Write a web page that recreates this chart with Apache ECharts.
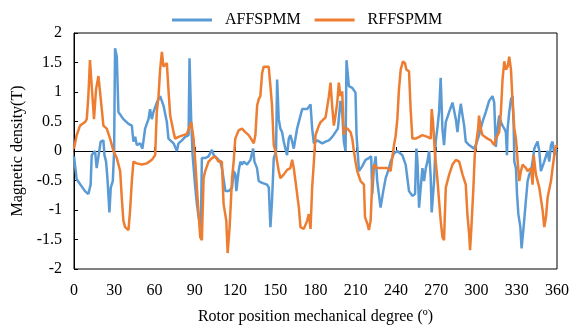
<!DOCTYPE html>
<html>
<head>
<meta charset="utf-8">
<script src="https://cdn.jsdelivr.net/npm/echarts@6/dist/echarts.min.js"></script>
<style>
  html, body { margin: 0; padding: 0; background: #fff; }
  #main { width: 581px; height: 330px; }
</style>
</head>
<body>
<div id="main"></div>
<script>
// rotor position (deg) and flux density (T)
const affDeg = [
  0, 2, 8.2, 10.7, 12.4, 13.2, 15.7, 16.9, 19.9, 21.9,
  22.7, 23.9, 24.9, 26.4, 27.4, 28.9, 29.9, 30.6, 31.9, 33.1,
  36.8, 40.6, 43.1, 44.3, 45.6, 46.8, 48, 49.3, 51, 53,
  55.5, 56.7, 58, 59.2, 61.7, 64.2, 66.7, 69.2, 70.4, 74.2,
  76.7, 77.9, 80.4, 82.9, 85.4, 86.1, 87.4, 88.4, 90.4, 91.6,
  92.9, 94.6, 95.3, 97.8, 100.3, 102.8, 104.1, 106.5, 109, 110.3,
  112.8, 115.3, 117.8, 119, 120.3, 121, 122.7, 124, 125.2, 126.5,
  129, 131.5, 133.5, 134.5, 136.4, 137.7, 140.2, 143.9, 145.2, 146.4,
  147.6, 148.9, 150.6, 151.4, 152.6, 153.8, 155.1, 156.3, 157.6, 158.8,
  160.1, 161.3, 162.6, 163.8, 166.3, 168.8, 170.1, 173.8, 176.3, 177.5,
  178.8, 181.3, 185, 187.5, 190, 192.5, 194.9, 196.7, 198.6, 199.9,
  201.1, 202.4, 203.1, 204.9, 207.4, 209.8, 210.6, 212.4, 214.8, 217.3,
  219.8, 221.5, 222.3, 223.5, 224.8, 226, 228.5, 230.5, 232.3, 234.8,
  236, 238.5, 241, 242.2, 244.7, 247.2, 249.7, 252.2, 254.2, 255.2,
  256, 257.2, 258.4, 259.7, 260.9, 262.2, 263.4, 264.7, 265.9, 266.6,
  268.4, 269.6, 270.8, 272.1, 273.3, 274.6, 275.8, 277.1, 279.6, 282.1,
  283.3, 284.6, 285.8, 287.1, 288.3, 289.6, 290.8, 292, 294.5, 298.2,
  299.5, 301.9, 304.4, 306.9, 309.4, 311.9, 313.2, 314.4, 315.7, 316.9,
  318.2, 319.4, 320.7, 321.9, 322.7, 323.2, 324.4, 325.7, 326.9, 327.7,
  328.2, 329.4, 330.2, 331.2, 332.7, 333.6, 335.1, 336.8, 338.1, 339.3,
  340.6, 341.8, 343.1, 344.3, 345.5, 346.8, 348, 350.5, 353, 354.2,
  355.5, 356.7, 358, 359.2, 360
];
const affB = [
  -0.09, -0.48, -0.68, -0.73, -0.57, -0.07, 0, -0.29, 0.16, 0.18,
  -0.07, -0.18, -0.46, -1.04, -0.62, -0.51, -0.01, 1.74, 1.6, 0.66,
  0.54, 0.46, 0.43, 0.16, 0.24, 0.1, 0.07, 0.13, 0.04, 0.38,
  0.54, 0.71, 0.54, 0.66, 0.82, 0.93, 0.77, 0.49, 0.21, 0.13,
  0, 0.13, 0.18, 0.24, 0.27, 1.57, 0.49, -0.07, -0.62, -0.9,
  -1.12, -1.29, -0.12, -0.12, -0.09, 0.02, -0.07, -0.12, -0.18, -0.29,
  -0.68, -0.68, -0.62, -0.34, -0.4, -0.68, -0.34, -0.18, -0.23, -0.18,
  -0.23, -0.15, 0.04, -0.18, -0.29, -0.51, -0.54, -0.57, -0.62, -1.29,
  -0.84, -0.12, -0.01, 1.21, 0.54, 0.38, 0.32, 0.16, 0.04, -0.07,
  0.21, 0.27, 0.16, 0.04, 0.38, 0.6, 0.71, 0.71, 0.79, 0.38,
  0.13, 0.18, 0.13, 0.16, 0.18, 0.24, 0.32, 0.38, 0.85, 0.66,
  0.16, 0, 1.54, 1.1, 1.07, 0.99, 0.27, -0.34, -0.26, -0.15,
  -0.12, -0.09, -0.73, -0.29, -0.09, -0.51, -0.96, -0.68, -0.46, -0.29,
  -0.18, -0.04, 0, 0.02, -0.07, -0.23, -0.68, -0.76, -0.73, 0.04,
  -0.18, -0.96, -0.62, -0.29, -0.51, -0.29, -0.18, 0, -0.46, -1.04,
  -0.51, 0.16, 0.38, 0.66, 1.24, 0.38, 0.1, 0.49, 0.66, 0.82,
  0.85, 0.54, 0.32, 0.6, 0.8, 0.6, 0.43, 0.16, 0.1, 0.04,
  0.1, 0.27, 0.49, 0.66, 0.85, 0.93, 0.82, 0.07, 0.38, 0.6,
  0.49, 0.43, 0.38, 0.32, -0.07, 0.38, 0.66, 0.88, 0.93, 0.43,
  -0.18, -0.29, -0.73, -1.07, -1.29, -1.65, -1.29, -0.84, -0.51, -0.4,
  -0.34, -0.18, 0.04, 0.1, 0.16, 0, -0.34, -0.18, 0, -0.18,
  0.1, 0.16, -0.07, 0, 0.04
];

const rffDeg = [
  0, 2, 4.5, 8.2, 9.5, 10.7, 11.9, 13.2, 14.9, 16.4,
  18.2, 19.4, 20.7, 21.9, 24.4, 26.9, 29.4, 31.9, 34.4, 35.6,
  36.8, 38.1, 40.6, 41.8, 43.1, 44.3, 46.8, 50.5, 54.3, 58,
  60.5, 61.7, 63, 64.2, 65.5, 66.7, 68, 69.2, 70.4, 71.7,
  74.2, 75.4, 77.9, 81.6, 84.1, 85.4, 87.4, 89.1, 90.4, 91.6,
  92.9, 94.1, 95.3, 96.6, 97.8, 100.3, 102.8, 105.2, 107.7, 110.2,
  111.5, 113.5, 114.5, 116, 117.8, 119, 120.2, 122.7, 125.2, 127.7,
  130.2, 132.7, 134, 135.2, 136.5, 137.7, 138.9, 140.2, 141.4, 142.7,
  145.1, 146.4, 147.6, 148.9, 150.1, 151.4, 152.6, 153.8, 156.3, 158.8,
  161.3, 162.6, 163.8, 165.1, 166.3, 167.6, 168.8, 171.3, 173.8, 175,
  176.3, 177.5, 178.8, 180, 182.5, 183.8, 185, 187.5, 188.7, 190,
  191.2, 192.4, 193.7, 194.9, 196.2, 197.4, 198.6, 199.9, 201.1, 201.8,
  203.7, 206.1, 207.4, 208.6, 209.8, 211.1, 213.6, 216.1, 216.9, 218.6,
  219.8, 221.1, 222.3, 223.5, 226, 229.8, 233.5, 236, 237.2, 238.5,
  239.7, 241, 242.2, 243.5, 245.2, 246.7, 247.7, 249.7, 250.9, 252.2,
  254.7, 257.2, 259.7, 263.4, 265.9, 266.6, 267.6, 269.1, 270.8, 272.1,
  273.3, 274.6, 275.8, 277.1, 279.6, 282.1, 284.6, 287.1, 289.6, 290.8,
  292, 293.2, 294.5, 295.2, 296.2, 297.7, 298.7, 300.2, 301.2, 301.9,
  303.2, 304.4, 308.2, 310.7, 313.2, 314.4, 316.9, 318.2, 319.4, 320.7,
  321.9, 323.2, 324.4, 325.7, 326.9, 328.2, 329.4, 330.7, 331.9, 333.1,
  334.4, 336.9, 338.1, 340.6, 341.8, 342.6, 344.3, 346.8, 349.3, 350.5,
  351.8, 353, 355.5, 356.7, 358, 359.2, 360
];
const rffB = [
  0.04, 0.27, 0.43, 0.49, 0.54, 0.93, 1.54, 1.1, 0.54, 1.04,
  1.27, 1.0, 0.71, 0.43, 0.38, 0.21, 0, -0.12, -0.34, -0.79,
  -1.18, -1.29, -1.34, -1.01, -0.51, -0.18, -0.21, -0.23, -0.21, -0.15,
  -0.07, 0.66, 0.93, 1.38, 1.68, 1.43, 1.4, 1.49, 1.04, 0.6,
  0.32, 0.21, 0.24, 0.27, 0.29, 0.32, 0.49, 0.21, -0.18, -0.62,
  -1.07, -1.46, -1.51, -0.46, -0.34, -0.18, -0.12, -0.09, -0.18, -0.18,
  -0.9, -1.18, -1.73, -1.29, -0.46, -0.18, 0.21, 0.35, 0.38, 0.32,
  0.27, 0.18, 0.13, 0.27, 0.77, 0.88, 0.93, 1.32, 1.43, 1.46,
  1.43, 1.1, 0.77, 0.1, 0, -0.18, -0.34, -0.46, -0.4, -0.32,
  -0.29, -0.15, -0.29, -0.51, -0.73, -0.96, -1.29, -1.32, -1.18, -1.07,
  -1.32, -0.62, -0.18, 0.27, 0.43, 0.49, 0.46, 0.57, 0.57, 0.93,
  1.16, 0.77, 0.43, 0.6, 0.82, 1.16, 0.93, 1.01, 0.27, 0.38,
  0.38, 0.32, 0.21, 0, -0.18, -0.34, -0.51, -0.57, -1.12, -1.23,
  -1.34, -1.18, -0.51, -0.23, -0.29, -0.29, -0.29, -0.34, -0.12, 0.1,
  0.25, 0.54, 1.04, 1.38, 1.52, 1.49, 1.38, 1.35, 0.71, 0.21,
  0.21, 0.24, 0.27, 0.24, 0.21, 0.71, 0.49, -0.07, -0.46, -0.84,
  -1.18, -1.46, -1.51, -0.62, -0.4, -0.23, -0.15, -0.18, -0.4, -0.43,
  -0.57, -1.07, -1.4, -1.68, -1.29, -0.62, -0.07, 0.21, 0.38, 0.6,
  0.38, 0.27, 0.21, 0.18, 0.1, 0.21, 0.32, 0.66, 1.21, 1.52,
  1.38, 1.43, 1.6, 1.38, 0.82, 0.38, 0.21, -0.18, -0.51, -0.34,
  -0.23, -0.29, -0.34, -0.29, -0.57, -0.07, -0.4, -0.62, -1.01, -1.29,
  -1.12, -0.79, -0.51, -0.29, -0.07, 0.1, 0.05
];

const seriesNames = ['AFFSPMM', 'RFFSPMM'];

function pairs(xs, ys) {
  return xs.map((x, i) => [x, ys[i]]);
}

const font = 'Liberation Serif';
const chart = echarts.init(document.getElementById('main'));

chart.setOption({
  animation: false,
  textStyle: { fontFamily: font },
  legend: {
    left: 167,
    top: 7,
    icon: 'rect',
    itemWidth: 40,
    itemHeight: 3,
    itemGap: 14,
    textStyle: { fontFamily: font, fontSize: 16, color: '#000', padding: [0, 0, 0, 8] },
    data: seriesNames
  },
  grid: {
    left: 74,
    right: 24,
    top: 33,
    bottom: 57,
    show: true,
    borderColor: '#000',
    borderWidth: 1
  },
  xAxis: {
    type: 'value',
    min: 0,
    max: 360,
    interval: 30,
    name: 'Rotor position mechanical degree (º)',
    nameLocation: 'middle',
    nameGap: 40,
    nameTextStyle: { fontFamily: font, fontSize: 16, color: '#000' },
    axisLine: { lineStyle: { color: '#000', width: 1 } },
    axisTick: { inside: true, length: 4, lineStyle: { color: '#000' } },
    axisLabel: { fontFamily: font, fontSize: 16, color: '#000', margin: 14 },
    splitLine: { show: false }
  },
  yAxis: {
    type: 'value',
    min: -2,
    max: 2,
    interval: 0.5,
    name: 'Magnetic density(T)',
    nameLocation: 'middle',
    nameGap: 43,
    nameTextStyle: { fontFamily: font, fontSize: 16, color: '#000' },
    axisLine: { show: true, lineStyle: { color: '#000', width: 1 } },
    axisTick: { show: true, inside: true, length: 4, lineStyle: { color: '#000' } },
    axisLabel: { fontFamily: font, fontSize: 16, color: '#000', margin: 12 },
    splitLine: { show: false }
  },
  series: [
    {
      name: seriesNames[0],
      type: 'line',
      data: pairs(affDeg, affB),
      showSymbol: false,
      symbol: 'none',
      color: '#5B9BD5',
      lineStyle: { width: 2.5, color: '#5B9BD5' }
    },
    {
      name: seriesNames[1],
      type: 'line',
      data: pairs(rffDeg, rffB),
      showSymbol: false,
      symbol: 'none',
      color: '#ED7D31',
      lineStyle: { width: 2.5, color: '#ED7D31' }
    }
  ]
});
</script>
</body>
</html>
